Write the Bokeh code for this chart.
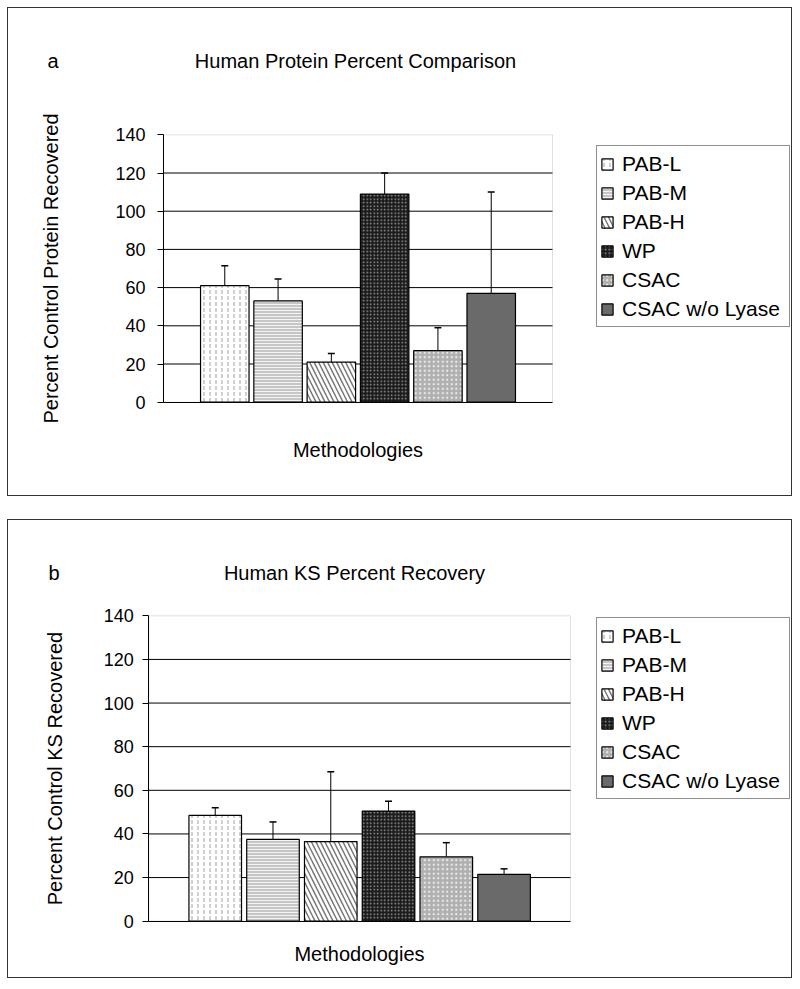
from bokeh.plotting import figure
from bokeh.models import (ColumnDataSource, Range1d, FixedTicker, Whisker, TeeHead,
                          Label, Legend, LegendItem, LinearAxis, BoxAnnotation)
from bokeh.core.properties import field
from bokeh.layouts import column
from bokeh.embed import file_html
from bokeh.resources import INLINE

# ---- data -------------------------------------------------------------
methods = ["PAB-L", "PAB-M", "PAB-H", "WP", "CSAC", "CSAC w/o Lyase"]

protein_pct = [61, 53, 21, 109, 27, 57]
protein_err = [10.5, 11.5, 4.5, 11, 12, 53]

ks_pct = [48.5, 37.5, 36.5, 50.5, 29.5, 21.5]
ks_err = [3.5, 8, 32, 4.5, 6.5, 2.5]

y_ticks = [0, 20, 40, 60, 80, 100, 120, 140]
grid_ticks = [20, 40, 60, 80, 100, 120]
y_lo, y_hi = 0, 140

# ---- styles ------------------------------------------------------------
fills = ["#ffffff", "#c6c6c6", "#ffffff", "#1a1a1a", "#b0b0b0", "#6a6a6a"]
hatches = ["vertical_dash", "horizontal_line", "left_diagonal_line", "dot", "dot", " "]
hatch_colors = ["#b0b0b0", "#f4f4f4", "#7a7a7a", "#9c9c9c", "#ececec", "#6a6a6a"]
hatch_scales = [6, 3, 9, 3.5, 4.5, 10]
hatch_weights = [1.2, 1, 1.5, 1, 1, 1]

FONT = "Liberation Sans"
BAR_W = 0.91
SLOT_PAD = 1.15          # empty room (in bar slots) left of the first / right of the last bar


def span_for(d0, d1, p0, p1, extent):
    """Range whose value d0 lands p0 px and d1 lands p1 px from the frame start."""
    s = (d1 - d0) / (p1 - p0)
    return d0 - p0 * s, d0 + (extent - p0) * s


def make_panel(letter, title, ylabel, vals, errs, width, height, area,
               title_pos, letter_x, legend_xy, tick_standoff,
               ylabel_standoff, xlabel_standoff, margin_top):
    x_lo, x_hi = -SLOT_PAD, len(methods) - 1 + SLOT_PAD
    ax_left, ax_right, ax_bottom, ax_top = area   # plot-area edges, px inside the panel
    xs, xe = span_for(x_lo, x_hi, ax_left, ax_right, width)
    ys, ye = span_for(y_lo, y_hi, ax_bottom, ax_top, height)

    src = ColumnDataSource(dict(
        x=list(range(len(methods))),
        method=methods,
        val=vals,
        upper=[v + e for v, e in zip(vals, errs)],
        fill=fills,
        hatch=hatches,
        hcol=hatch_colors,
        hscale=hatch_scales,
        hweight=hatch_weights,
    ))
    p = figure(width=width, height=height,
               x_range=Range1d(xs, xe), y_range=Range1d(ys, ye),
               x_axis_type=None, y_axis_type=None,
               output_backend="svg", toolbar_location=None, min_border=0)
    p.frame_align = False
    p.styles = {"border": "1px solid #333333",
                "margin-left": "7px", "margin-top": f"{margin_top}px"}
    p.background_fill_color = "white"
    p.border_fill_color = "white"
    p.outline_line_color = None
    p.xgrid.visible = False
    p.ygrid.visible = False

    # light frame round the plot area
    p.add_layout(BoxAnnotation(left=x_lo, right=x_hi, bottom=y_lo, top=y_hi,
                               fill_color=None, line_color="#9a9a9a", line_width=1,
                               level="underlay"))
    # horizontal grid lines
    gsrc = ColumnDataSource(dict(y=grid_ticks,
                                 x0=[x_lo] * len(grid_ticks),
                                 x1=[x_hi] * len(grid_ticks)))
    p.segment(x0="x0", x1="x1", y0="y", y1="y", source=gsrc,
              line_color="black", line_width=1)

    r = p.vbar(x="x", top="val", bottom=0, width=BAR_W, source=src,
               fill_color="fill", line_color="black", line_width=1.2,
               hatch_pattern="hatch", hatch_color="hcol",
               hatch_scale="hscale", hatch_weight="hweight")

    w = Whisker(base="x", lower="val", upper="upper", source=src,
                dimension="height", line_color="black", line_width=1,
                upper_head=TeeHead(size=7, line_color="black", line_width=1.5),
                lower_head=None)
    p.add_layout(w)

    # y axis at the left edge of the plot area
    ya = LinearAxis(fixed_location=x_lo, bounds=(y_lo, y_hi),
                    ticker=FixedTicker(ticks=y_ticks))
    ya.axis_line_color = "black"
    ya.major_tick_line_color = "black"
    ya.major_tick_out = 6
    ya.major_tick_in = 0
    ya.minor_tick_line_color = None
    ya.major_label_text_font = FONT
    ya.major_label_text_font_size = "18px"
    ya.major_label_text_color = "black"
    ya.major_label_standoff = tick_standoff
    ya.axis_label = ylabel
    ya.axis_label_text_font = FONT
    ya.axis_label_text_font_size = "20px"
    ya.axis_label_text_font_style = "normal"
    ya.axis_label_text_color = "black"
    ya.axis_label_standoff = ylabel_standoff
    p.add_layout(ya, "left")

    # x axis along the bottom of the plot area
    xa = LinearAxis(fixed_location=y_lo, bounds=(x_lo, x_hi),
                    ticker=FixedTicker(ticks=[]))
    xa.axis_line_color = "black"
    xa.major_tick_out = 0
    xa.major_tick_in = 0
    xa.minor_tick_line_color = None
    xa.axis_label = "Methodologies"
    xa.axis_label_text_font = FONT
    xa.axis_label_text_font_size = "20px"
    xa.axis_label_text_font_style = "normal"
    xa.axis_label_text_color = "black"
    xa.axis_label_standoff = xlabel_standoff
    p.add_layout(xa, "below")

    # panel letter and chart title
    p.add_layout(Label(x=title_pos[0], y=title_pos[1], x_units="screen", y_units="screen",
                       text=title, text_align="center", text_baseline="alphabetic",
                       text_font=FONT, text_font_size="20px", text_color="black"))
    p.add_layout(Label(x=letter_x, y=title_pos[1], x_units="screen", y_units="screen",
                       text=letter, text_align="left", text_baseline="alphabetic",
                       text_font=FONT, text_font_size="20px", text_color="black"))

    # legend
    leg = Legend(items=[LegendItem(label=field("method"), renderers=[r])],
                 location=legend_xy)
    leg.margin = 0
    leg.padding = 3
    leg.spacing = 0
    leg.label_height = 29
    leg.label_width = 164
    leg.glyph_height = 14
    leg.glyph_width = 14
    leg.label_standoff = 8
    leg.label_text_font = FONT
    leg.label_text_font_size = "21px"
    leg.label_text_color = "black"
    leg.label_text_baseline = "middle"
    leg.border_line_color = "#222222"
    leg.border_line_width = 1
    leg.background_fill_color = "white"
    leg.background_fill_alpha = 1
    p.add_layout(leg, "center")
    return p


# area = (plot-area left, right, bottom, top) in px from the panel's inner left / bottom
pa = make_panel("a", "Human Protein Percent Comparison", "Percent Control Protein Recovered",
                protein_pct, protein_err, width=785, height=489,
                area=(155, 544, 95.3, 362.7),
                title_pos=(347, 437), letter_x=39, legend_xy=(588, 170),
                tick_standoff=12, ylabel_standoff=50, xlabel_standoff=36, margin_top=7)

pb = make_panel("b", "Human KS Percent Recovery", "Percent Control KS Recovered",
                ks_pct, ks_err, width=785, height=459,
                area=(140.3, 562, 58.3, 363.7),
                title_pos=(346, 407), letter_x=40, legend_xy=(588, 180),
                tick_standoff=9, ylabel_standoff=34, xlabel_standoff=21, margin_top=0)

layout = column(pa, pb, spacing=23)

open("out.html", "w").write(file_html(layout, INLINE))
